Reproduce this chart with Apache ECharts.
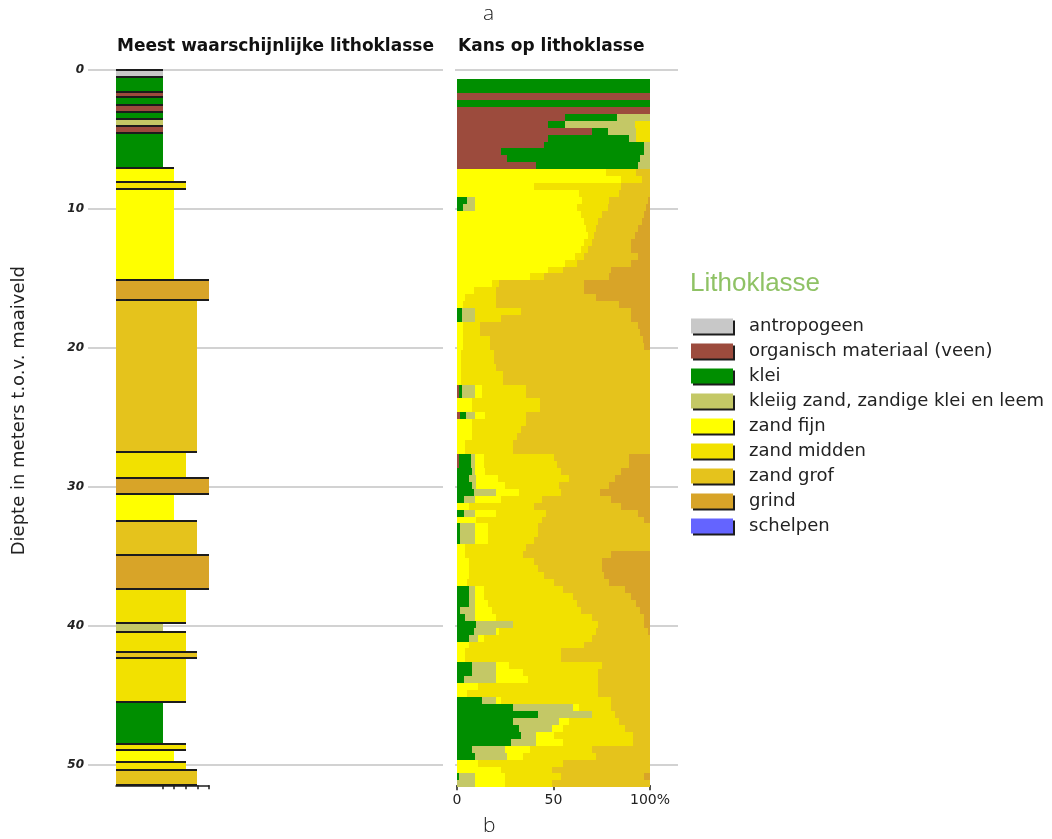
<!DOCTYPE html>
<html>
<head>
<meta charset="utf-8">
<script src="https://cdn.jsdelivr.net/npm/echarts@6/dist/echarts.min.js"></script>
<style>
  html, body { margin: 0; padding: 0; background: #ffffff; }
  #chart { width: 1052px; height: 839px; }
</style>
</head>
<body>
<div id="chart"></div>
<script>
// Lithology classes, their legend colours and the log width each class gets
const classNames = ['antropogeen', 'organisch materiaal (veen)', 'klei', 'kleiig zand, zandige klei en leem',
  'zand fijn', 'zand midden', 'zand grof', 'grind', 'schelpen'];
const classColors = ['#c8c8c8', '#9c4b3d', '#008e00', '#c4c866', '#ffff00', '#f2e100', '#e5c31c', '#d8a428', '#6464ff'];
const classWidth = [4, 4, 4, 4, 5, 6, 7, 8, 6];

// Most likely lithology: layer top / bottom (m below surface) and class index
const layerTop = [0, 0.5, 1.55, 1.95, 2.55, 3.0, 3.55, 4.05, 4.55, 7.05, 8.05, 8.6, 15.1, 16.55, 27.5, 29.4,
  30.5, 32.5, 34.9, 37.4, 39.85, 40.45, 41.9, 42.35, 45.5, 48.5, 48.95, 49.8, 50.4];
const layerBottom = [0.5, 1.55, 1.95, 2.55, 3.0, 3.55, 4.05, 4.55, 7.05, 8.05, 8.6, 15.1, 16.55, 27.5, 29.4, 30.5,
  32.5, 34.9, 37.4, 39.85, 40.45, 41.9, 42.35, 45.5, 48.5, 48.95, 49.8, 50.4, 51.5];
const layerClass = [0, 2, 1, 2, 1, 2, 3, 1, 2, 4, 5, 4, 7, 6, 5, 7,
  4, 6, 7, 5, 3, 5, 6, 5, 2, 5, 4, 5, 6];

// Probability per 0.5 m voxel slice (percent), first slice starts at 0.65 m
const sliceStart = 0.65;
const sliceHeight = 0.5;
const pAntropogeen = new Array(102).fill(0);
const pVeen = [
  0, 0, 100, 0, 100, 56, 47, 70, 47, 45,
  23, 26, 41, 0, 0, 0, 0, 0, 0, 0,
  0, 0, 0, 0, 0, 0, 0, 0, 0, 0,
  0, 0, 0, 0, 0, 0, 0, 0, 0, 0,
  0, 0, 0, 0, 1, 1, 0, 0, 1.5, 0,
  0, 0, 0, 0, 1, 1, 0, 0, 0, 0,
  0, 0, 0, 0, 0, 0, 0, 0, 0, 0,
  0, 0, 0, 0, 0, 0, 0, 0, 0, 0,
  0, 0, 0, 0, 0, 0, 0, 0, 0, 0,
  0, 0, 0, 0, 0, 0, 0, 0, 0, 0,
  0, 0];
const pKlei = [
  100, 100, 0, 100, 0, 27, 9, 8, 42, 52,
  74, 69, 53, 0, 0, 0, 0, 5, 3, 0,
  0, 0, 0, 0, 0, 0, 0, 0, 0, 0,
  0, 0, 0, 2.4, 2.4, 0, 0, 0, 0, 0,
  0, 0, 0, 0, 1.4, 1.4, 0, 0, 3.2, 0,
  0, 0, 0, 0, 6, 6, 8, 6, 8, 8.6,
  3.5, 0, 3.5, 0, 1.7, 1.7, 1.7, 0, 0, 0,
  0, 0, 0, 6, 6, 6, 1.7, 4, 10, 9,
  6, 0, 0, 0, 7.8, 7.8, 3.5, 0, 0, 13,
  29, 42, 29, 32, 33, 28, 8, 9.5, 0, 0,
  1, 0];
const pKleiigZand = [
  0, 0, 0, 0, 0, 17, 36, 15, 4, 3,
  3, 5, 6, 0, 0, 0, 0, 4.5, 6.5, 0,
  0, 0, 0, 0, 0, 0, 0, 0, 0, 0,
  0, 0, 0, 6.9, 6.9, 0, 0, 0, 0, 0,
  0, 0, 0, 0, 6.9, 6.9, 0, 0, 4.6, 0,
  0, 0, 0, 0, 2.5, 2.5, 1.5, 4, 2, 11.4,
  6, 0, 6, 0, 7.8, 7.8, 7.8, 0, 0, 0,
  0, 0, 0, 3.5, 3.5, 3.5, 7.8, 5.5, 19, 11,
  5, 0, 0, 0, 12.2, 12.2, 16.5, 0, 0, 7,
  31, 28, 24, 17, 8, 13, 17, 16.5, 0, 0,
  8.5, 9.5];
const pZandFijn = [
  0, 0, 0, 0, 0, 0, 0, 0, 0, 0,
  0, 0, 0, 77, 85, 40, 63, 55.5, 52.5, 64,
  66, 67, 68, 66, 64, 61, 56, 47, 38, 18,
  9, 4, 3, 0, 0, 3, 3, 3, 3, 2,
  2, 2, 2, 2, 3.5, 3.5, 8, 8, 5.2, 8,
  8, 8, 4, 4, 4.5, 4.5, 5, 11, 15, 12,
  13.5, 6, 10.5, 10, 6.5, 6.5, 6.5, 4, 4, 6,
  6, 6, 5, 4.5, 4.5, 6.5, 8.5, 10.5, 0, 2,
  3, 6, 4, 4, 7, 14, 17, 11, 5, 3,
  3, 0, 5, 6, 9, 14, 13, 8, 11, 23,
  15.5, 15.5];
const pZandMidden = [
  0, 0, 0, 0, 0, 0, 8, 7, 7, 0,
  0, 0, 0, 16, 11, 45, 21, 14, 16, 11,
  7, 5, 3, 4, 4, 5, 6, 8, 7, 4,
  11, 16, 17, 23.7, 13.7, 9, 9, 14, 14, 17,
  17, 18, 22, 22, 23.2, 23.2, 35, 35, 21.5, 28,
  25, 23, 25, 25, 36, 38, 39.5, 37, 28, 22,
  21, 34, 26, 34, 26, 26, 24, 32, 30, 34,
  36, 39, 45, 41, 46, 46, 46, 50, 44, 50,
  56, 60, 50, 50, 48, 39, 36, 62, 68, 57,
  17, 12, 26, 32, 41, 36, 32, 38, 44, 26,
  29, 24];
const pZandGrof = [
  0, 0, 0, 0, 0, 0, 0, 0, 0, 0,
  0, 0, 0, 7, 4, 15, 16, 20, 20, 22,
  23, 22, 21, 20, 22, 28, 28, 25, 34, 44,
  46, 52, 64, 57, 67, 82, 83, 79.5, 80, 81,
  81, 80, 76, 76, 64, 64, 57, 57, 64, 64,
  67, 69, 71, 71, 39, 37, 31, 24, 26, 20,
  36, 45, 48, 53, 58, 58, 60, 64, 46, 35,
  33, 31, 29, 32, 30, 31, 31, 27, 24, 27,
  30, 34, 46, 46, 25, 27, 27, 27, 27, 20,
  20, 18, 16, 13, 9, 9, 30, 28, 45, 51,
  43, 51];
const pGrind = [
  0, 0, 0, 0, 0, 0, 0, 0, 0, 0,
  0, 0, 0, 0, 0, 0, 0, 1, 2, 3,
  4, 6, 8, 10, 10, 6, 10, 20, 21, 34,
  34, 28, 16, 10, 10, 6, 5, 3.5, 3, 0,
  0, 0, 0, 0, 0, 0, 0, 0, 0, 0,
  0, 0, 0, 0, 11, 11, 15, 18, 21, 26,
  20, 15, 6, 3, 0, 0, 0, 0, 20, 25,
  25, 24, 21, 13, 10, 7, 5, 3, 3, 1,
  0, 0, 0, 0, 0, 0, 0, 0, 0, 0,
  0, 0, 0, 0, 0, 0, 0, 0, 0, 0,
  3, 0];
const pSchelpen = new Array(102).fill(0);
const probabilities = [pAntropogeen, pVeen, pKlei, pKleiigZand, pZandFijn, pZandMidden, pZandGrof, pGrind, pSchelpen];

// Axis ticks
const depthTicks = [0, 10, 20, 30, 40, 50];
const depthMax = 51.5;
const logTicks = [4, 5, 6, 7, 8];
const pctTicks = [0, 50, 100];
const pctTickLabels = ['0', '50', '100%'];

// Stacked rectangles for each class: [start %, end %, top depth, bottom depth]
const stackData = classNames.map(() => []);
for (let i = 0; i < pVeen.length; i++) {
  let acc = 0;
  const top = sliceStart + i * sliceHeight;
  for (let c = 0; c < classNames.length; c++) {
    const v = probabilities[c][i];
    if (v > 0) stackData[c].push([acc, acc + v, top, top + sliceHeight]);
    acc += v;
  }
}

const layerData = layerTop.map((t, i) => [t, layerBottom[i], classWidth[layerClass[i]], layerClass[i]]);

// Snap rectangles to whole pixels so neighbouring slices meet without seams
function renderSlice(params, api) {
  const p0 = api.coord([api.value(0), api.value(2)]);
  const p1 = api.coord([api.value(1), api.value(3)]);
  const x0 = Math.round(p0[0]), x1 = Math.round(p1[0]);
  const y0 = Math.round(p0[1]), y1 = Math.round(p1[1]);
  return {
    type: 'rect',
    shape: { x: x0, y: y0, width: x1 - x0, height: y1 - y0 },
    style: { fill: api.visual('color') }
  };
}

function renderLayer(params, api) {
  const cls = api.value(3);
  const p0 = api.coord([0, api.value(0)]);
  const p1 = api.coord([api.value(2), api.value(1)]);
  const x0 = Math.round(p0[0]), x1 = Math.round(p1[0]);
  const y0 = Math.round(p0[1]), y1 = Math.round(p1[1]);
  return {
    type: 'group',
    children: [
      { type: 'rect', shape: { x: x0, y: y0, width: x1 - x0, height: y1 - y0 },
        style: { fill: classColors[cls] } },
      { type: 'line', shape: { x1: x0, y1: y0, x2: x1, y2: y0 },
        style: { stroke: '#1c1c1c', lineWidth: 2 } },
      { type: 'line', shape: { x1: x0, y1: y1, x2: x1, y2: y1 },
        style: { stroke: '#1c1c1c', lineWidth: 2 } }
    ]
  };
}

const gridLine = { show: true, lineStyle: { color: '#d2d2d2', width: 2 } };
const depthAxisBase = { type: 'value', inverse: true, min: 0, max: depthMax };

const chart = echarts.init(document.getElementById('chart'), null, { renderer: 'canvas' });
chart.setOption({
  animation: false,
  backgroundColor: '#ffffff',
  textStyle: { fontFamily: 'DejaVu Sans' },
  title: [
    { text: 'a', left: 478, top: -1, textStyle: { fontSize: 21, fontWeight: 'lighter', color: '#222', fontFamily: 'Open Sans' } },
    { text: 'b', left: 478, top: 811, textStyle: { fontSize: 21, fontWeight: 'lighter', color: '#222', fontFamily: 'Open Sans' } },
    { text: 'Meest waarschijnlijke lithoklasse', left: 112, top: 33, textStyle: { fontSize: 17, fontWeight: 'bold', color: '#111' } },
    { text: 'Kans op lithoklasse', left: 453, top: 33, textStyle: { fontSize: 17, fontWeight: 'bold', color: '#111' } },
    { text: 'Lithoklasse', left: 685, top: 266, textStyle: { fontSize: 26, fontWeight: 'normal', color: '#8fc265', fontFamily: 'Liberation Sans' } }
  ],
  legend: {
    data: classNames,
    orient: 'vertical',
    left: 691,
    top: 317,
    padding: 0,
    icon: 'rect',
    itemWidth: 42,
    itemHeight: 15,
    itemGap: 7,
    itemStyle: { shadowColor: '#1c1c1c', shadowOffsetX: 2, shadowOffsetY: 2, shadowBlur: 0 },
    textStyle: { fontSize: 18, color: '#222', fontFamily: 'DejaVu Sans', lineHeight: 15, padding: [0, 0, 0, 11] }
  },
  grid: [
    { left: 88, width: 355, top: 70, height: 715.3 },
    { left: 116, width: 93, top: 70, height: 715.3 },
    { left: 455, width: 223, top: 70, height: 715.3 },
    { left: 457, width: 193, top: 70, height: 715.3 }
  ],
  xAxis: [
    { gridIndex: 0, type: 'value', min: 0, max: 1, show: false },
    { gridIndex: 1, type: 'value', min: 0, max: 8, position: 'bottom',
      axisLine: { show: true, onZero: false, lineStyle: { color: '#1c1c1c', width: 1.5 } },
      axisTick: { show: true, customValues: logTicks, length: 4, lineStyle: { color: '#1c1c1c', width: 1.5 } },
      axisLabel: { show: false }, splitLine: { show: false } },
    { gridIndex: 2, type: 'value', min: 0, max: 1, show: false },
    { gridIndex: 3, type: 'value', min: 0, max: 100, position: 'bottom',
      axisLine: { show: true, onZero: false, lineStyle: { color: '#1c1c1c', width: 1.5 } },
      axisTick: { show: true, customValues: pctTicks, length: 5, lineStyle: { color: '#1c1c1c', width: 1.5 } },
      axisLabel: { customValues: pctTicks, formatter: (v) => pctTickLabels[pctTicks.indexOf(v)],
        fontSize: 14, color: '#222', margin: 8 },
      splitLine: { show: false } }
  ],
  yAxis: [
    Object.assign({}, depthAxisBase, { gridIndex: 0,
      name: 'Diepte in meters t.o.v. maaiveld', nameLocation: 'middle', nameGap: 60,
      nameTextStyle: { fontSize: 18, color: '#222', padding: [0, 0, 0, 34] },
      axisLine: { show: false },
      axisTick: { show: false, customValues: depthTicks },
      axisLabel: { customValues: depthTicks, fontStyle: 'italic', fontWeight: 'bold', fontSize: 12, color: '#222', margin: 4 },
      splitLine: gridLine }),
    Object.assign({}, depthAxisBase, { gridIndex: 1, show: false }),
    Object.assign({}, depthAxisBase, { gridIndex: 2,
      axisLine: { show: false },
      axisTick: { show: false, customValues: depthTicks },
      axisLabel: { show: false, customValues: depthTicks },
      splitLine: gridLine }),
    Object.assign({}, depthAxisBase, { gridIndex: 3, show: false })
  ],
  series: [
    {
      name: 'Meest waarschijnlijke lithoklasse',
      type: 'custom',
      xAxisIndex: 1, yAxisIndex: 1,
      renderItem: renderLayer,
      encode: { x: 2, y: [0, 1] },
      data: layerData,
      z: 3
    }
  ].concat(classNames.map((name, c) => ({
    name: name,
    type: 'custom',
    xAxisIndex: 3, yAxisIndex: 3,
    itemStyle: { color: classColors[c] },
    renderItem: renderSlice,
    encode: { x: [0, 1], y: [2, 3] },
    data: stackData[c],
    z: 3
  })))
});
</script>
</body>
</html>
